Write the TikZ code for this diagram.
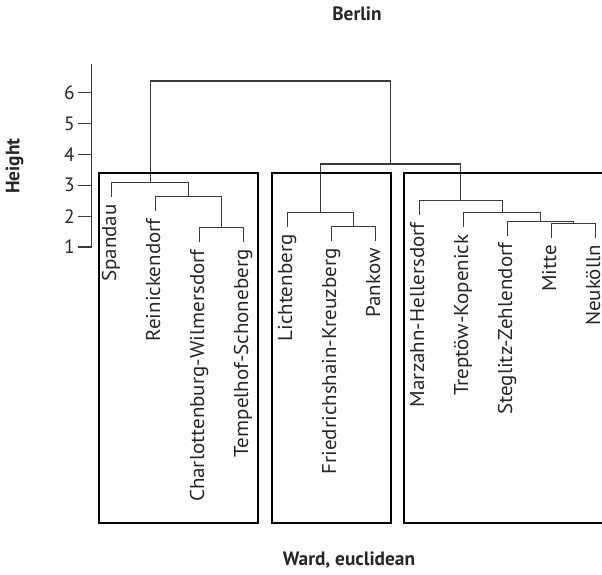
\documentclass[tikz,border=0pt]{standalone}
\usepackage{fontspec}
\setmainfont{PT Sans}
\newfontfamily\leaffont[FakeStretch=1.05]{PT Sans}
\usetikzlibrary{calc}

\definecolor{treegray}{HTML}{3A3A3A}

\begin{document}
\begin{tikzpicture}[x=0.75pt,y=-0.75pt,
    branch/.style={draw=treegray, line width=0.8pt},
    cluster/.style={draw=black, line width=1.6pt},
    leaflab/.style={rotate=90, anchor=base east, inner sep=0pt, text=black!85,
      font=\leaffont\fontsize{15}{18}\selectfont},
    ticklab/.style={anchor=east, inner sep=0pt, text=black!85,
      font=\fontsize{14.5}{17}\selectfont},
    heading/.style={inner sep=0pt, text=black!85,
      font=\bfseries\fontsize{14.5}{17}\selectfont}]

  % page in pixels
  \clip (0,0) rectangle (602,574);

  % leaf spacing and first leaf
  \def\dx{44}
  \def\xO{111.7}
  % pixels per unit of height, y of height 1
  \def\hu{30.86}
  \def\yO{247}
  % leaves hang below their merge
  \def\hang{14.5}

  % leaves: index / name / label / merge height
  \foreach \i/\n/\lab/\h in {0/spa/Spandau/3.09, 1/rei/Reinickendorf/2.63,
      2/cha/Charlottenburg-Wilmersdorf/1.625, 3/tem/Tempelhof-Schoneberg/1.625,
      4/lic/Lichtenberg/2.11, 5/fri/Friedrichshain-Kreuzberg/1.66,
      6/pan/Pankow/1.66, 7/mar/Marzahn-Hellersdorf/2.5,
      8/tre/Treptöw-Kopenick/2.11, 9/ste/Steglitz-Zehlendorf/1.84,
      10/mit/Mitte/1.77, 11/neu/Neukölln/1.77} {
    \pgfmathsetmacro{\x}{\xO+\dx*\i}
    \pgfmathsetmacro{\y}{\yO-(\h-1)*\hu+\hang}
    \coordinate (\n) at (\x,\y);
    \node[leaflab] (\n-lab) at ({\x+4.5},{\y+7}) {\lab};
  }

  % merges: name / position in leaf units / height
  \foreach \n/\p/\h in {ct/2.5/1.625, rct/1.75/2.63, g1/0.875/3.09,
      fp/5.5/1.66, g2/4.75/2.11, mn/10.5/1.77, smn/9.75/1.84,
      tsmn/8.875/2.11, g3/7.9375/2.5, g23/6.34375/3.69, top/3.609375/6.38}
    \coordinate (\n) at ({\xO+\dx*\p},{\yO-(\h-1)*\hu});

  % branches: left child / merge / right child
  \foreach \a/\m/\b in {cha/ct/tem, rei/rct/ct, spa/g1/rct,
      fri/fp/pan, lic/g2/fp, mit/mn/neu, ste/smn/mn,
      tre/tsmn/smn, mar/g3/tsmn, g2/g23/g3, g1/top/g23}
    \draw[branch] (\a) |- (\m) -| (\b);

  % the three groups
  \draw[cluster] (99.3,173) rectangle (258.3,523);
  \draw[cluster] (272.3,173) rectangle (390.7,523);
  \draw[cluster] (404,173) rectangle (612,523);

  % height axis
  \coordinate (axlo) at (91.7,\yO);
  \coordinate (axhi) at (91.7,64);
  \draw[branch] (axhi) -- (axlo);
  \foreach \k in {1,...,6} {
    \pgfmathsetmacro{\y}{\yO-(\k-1)*\hu}
    \draw[branch] (78.3,\y) -- (91.7,\y);
    \node[ticklab] (tick\k) at (75,\y) {\k};
  }

  % titles
  \node[heading] (title) at (357,14) {Berlin};
  \node[heading] (xlab) at (349,560) {Ward, euclidean};
  \node[heading, rotate=90] (ylab) at (14.5,166) {Height};
\end{tikzpicture}
\end{document}
